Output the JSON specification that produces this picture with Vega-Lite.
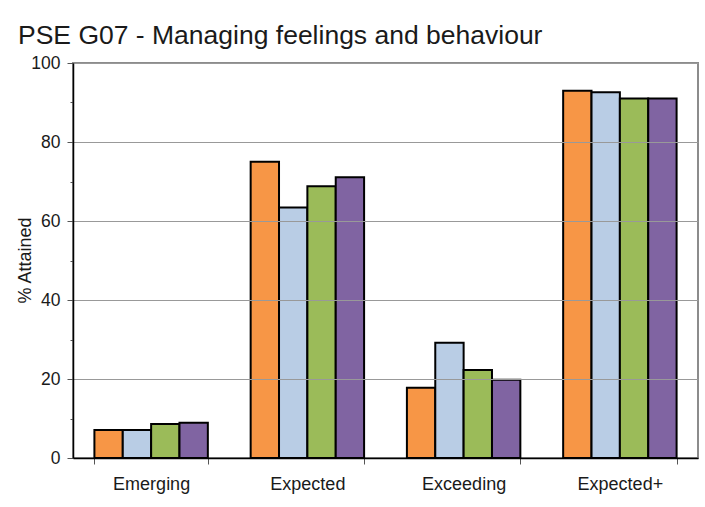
{
  "$schema": "https://vega.github.io/schema/vega-lite/v6.json",
  "autosize": {"type": "none"},
  "padding": {"left": 73, "top": 63, "right": 7, "bottom": 49},
  "width": 625,
  "height": 395,
  "background": "white",
  "title": {
    "text": "PSE G07 - Managing feelings and behaviour",
    "anchor": "start",
    "frame": "group",
    "dx": -55,
    "offset": -22,
    "baseline": "bottom",
    "font": "Liberation Sans",
    "fontSize": 26.5,
    "fontWeight": "normal",
    "color": "#1a1a1a"
  },
  "data": {
    "values": [
      {"category": "Emerging", "series": "Series 1", "value": 7.1},
      {"category": "Emerging", "series": "Series 2", "value": 7.1},
      {"category": "Emerging", "series": "Series 3", "value": 8.6},
      {"category": "Emerging", "series": "Series 4", "value": 8.9},
      {"category": "Expected", "series": "Series 1", "value": 75.0},
      {"category": "Expected", "series": "Series 2", "value": 63.4},
      {"category": "Expected", "series": "Series 3", "value": 68.8},
      {"category": "Expected", "series": "Series 4", "value": 71.1},
      {"category": "Exceeding", "series": "Series 1", "value": 17.8},
      {"category": "Exceeding", "series": "Series 2", "value": 29.2},
      {"category": "Exceeding", "series": "Series 3", "value": 22.3},
      {"category": "Exceeding", "series": "Series 4", "value": 19.8},
      {"category": "Expected+", "series": "Series 1", "value": 93.0},
      {"category": "Expected+", "series": "Series 2", "value": 92.6},
      {"category": "Expected+", "series": "Series 3", "value": 91.0},
      {"category": "Expected+", "series": "Series 4", "value": 91.0}
    ]
  },
  "mark": {"type": "bar", "stroke": "black", "strokeWidth": 2},
  "encoding": {
    "x": {
      "field": "category",
      "type": "nominal",
      "sort": ["Emerging", "Expected", "Exceeding", "Expected+"],
      "scale": {"paddingInner": 0.274, "paddingOuter": 0.137},
      "axis": {
        "title": null,
        "labelAngle": 0,
        "tickBand": "extent",
        "tickSize": 6,
        "tickColor": "#555",
        "domainColor": "black",
        "domainWidth": 1.5,
        "labelFont": "Liberation Sans",
        "labelFontSize": 18,
        "labelColor": "#1a1a1a",
        "labelPadding": 11,
        "zindex": 1
      }
    },
    "xOffset": {
      "field": "series",
      "type": "nominal",
      "scale": {"paddingInner": 0, "paddingOuter": 0}
    },
    "y": {
      "field": "value",
      "type": "quantitative",
      "scale": {"domain": [0, 100], "nice": false},
      "axis": {
        "title": "% Attained",
        "titleFont": "Liberation Sans",
        "titleFontSize": 18,
        "titleFontWeight": "normal",
        "titleColor": "#1a1a1a",
        "titleX": -48,
        "titleY": 197,
        "titleAngle": -90,
        "titleAlign": "center",
        "titleBaseline": "middle",
        "values": [0, 10, 20, 30, 40, 50, 60, 70, 80, 90, 100],
        "labelExpr": "datum.value % 20 === 0 ? datum.label : ''",
        "labelFont": "Liberation Sans",
        "labelFontSize": 17.5,
        "labelColor": "#1a1a1a",
        "labelPadding": 7,
        "tickSize": {"condition": {"test": "datum.value % 20 === 0", "value": 6}, "value": 3},
        "tickColor": "#555",
        "domainColor": "black",
        "domainWidth": 1.5,
        "grid": true,
        "gridColor": "#999",
        "gridWidth": 1,
        "gridOpacity": {"condition": {"test": "datum.value % 20 === 0", "value": 1}, "value": 0},
        "zindex": 1
      }
    },
    "color": {
      "field": "series",
      "type": "nominal",
      "scale": {"range": ["#F79646", "#B9CDE5", "#9BBB59", "#8064A2"]},
      "legend": null
    }
  },
  "config": {
    "view": {"stroke": "#8c8c8c", "strokeWidth": 2},
    "axis": {"gridZIndex": 0}
  }
}
